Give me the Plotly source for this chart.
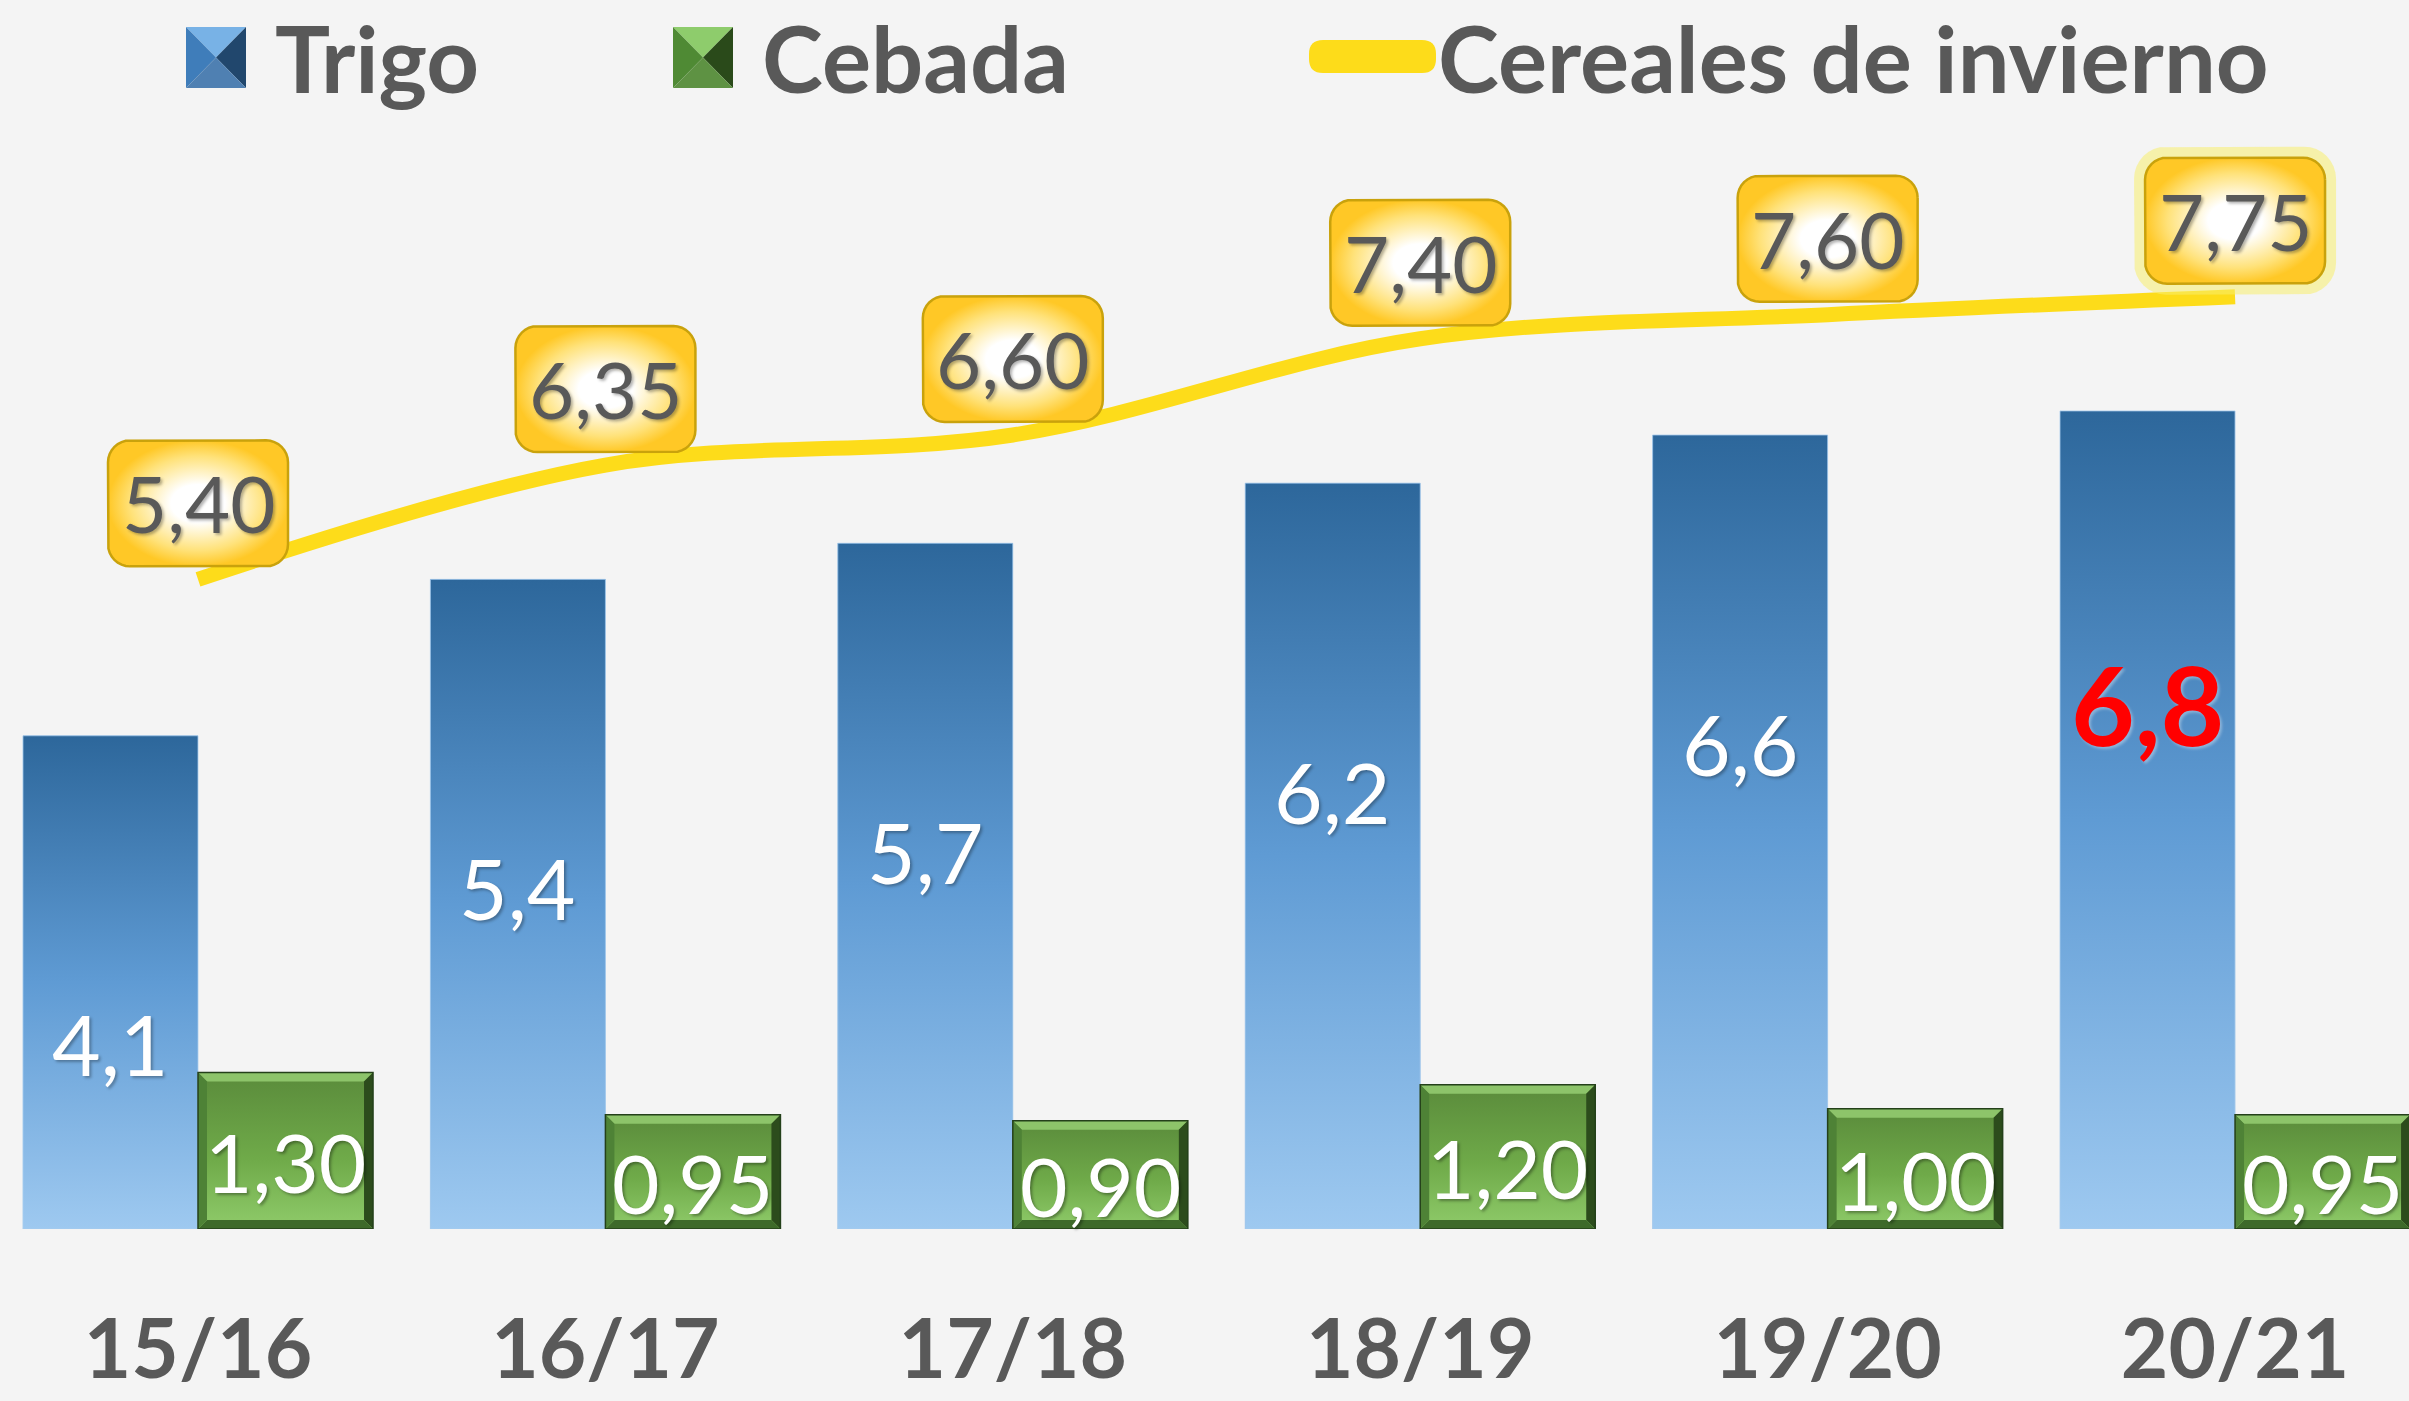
import plotly.graph_objects as go
import math

# ---------------- data ----------------
categories = ['15/16', '16/17', '17/18', '18/19', '19/20', '20/21']
trigo = [4.1, 5.4, 5.7, 6.2, 6.6, 6.8]
cebada = [1.30, 0.95, 0.90, 1.20, 1.00, 0.95]
cereales = [5.40, 6.35, 6.60, 7.40, 7.60, 7.75]
series_names = ['Trigo', 'Cebada', 'Cereales de invierno']

# ---------------- layout geometry ----------------
W, H = 2409, 1401
MB = 172                      # bottom margin (baseline of bars)
HP = H - MB                   # plot height in px
XR = [-0.486, 5.427]
YR = [0, 10.216]
dxpp = (XR[1] - XR[0]) / W
dypp = (YR[1] - YR[0]) / HP
BW = 0.4296                   # width of each bar (category units)

BG = '#F4F4F4'
GREY = '#595959'
FONT = 'Lato'

idx = list(range(len(categories)))


def fmt(v, d):
    return f"{v:.{d}f}".replace('.', ',')


def px2paper(xp, yp):
    return xp / W, (HP - yp) / HP


fig = go.Figure()

# base bars (through the library's own bar scale)
fig.add_trace(go.Bar(x=idx, y=trigo, width=BW, offset=-BW, name=series_names[0],
                     marker=dict(color='#5C97D0', line=dict(width=0)), showlegend=False))
fig.add_trace(go.Bar(x=idx, y=cebada, width=BW, offset=0, name=series_names[1],
                     marker=dict(color='#6DA848', line=dict(width=0)), showlegend=False))

# gradient overlays for the bars
for i, v in zip(idx, trigo):
    x0, x1 = i - BW, i
    fig.add_trace(go.Scatter(
        x=[x0, x1, x1, x0, x0], y=[0, 0, v, v, 0], mode='lines', line=dict(width=0.8, color='#A9CDEE'),
        fill='toself', hoverinfo='skip', showlegend=False,
        fillgradient=dict(type='vertical',
                          colorscale=[[0, '#9EC9F0'], [0.5, '#5F9BD4'], [1, '#2D679B']])))
for i, v in zip(idx, cebada):
    x0, x1 = i, i + BW
    fig.add_trace(go.Scatter(
        x=[x0, x1, x1, x0, x0], y=[0, 0, v, v, 0], mode='lines', line=dict(width=0),
        fill='toself', hoverinfo='skip', showlegend=False,
        fillgradient=dict(type='vertical',
                          colorscale=[[0, '#8FCB6A'], [0.45, '#6FAA49'], [1, '#5A8B3B']])))

# line of winter cereals
fig.add_trace(go.Scatter(x=idx, y=cereales, mode='lines', name=series_names[2],
                         line=dict(color='#FDDC1A', width=15, shape='spline', smoothing=1.0),
                         showlegend=False))


def rounded_box(cx, ybase, wpx, hpx, rpx, ygap):
    pts = []
    # in pixel space relative to (cx, ybase); y up
    l, r = -wpx / 2, wpx / 2
    b, t = ygap, ygap + hpx
    corners = [(r - rpx, t - rpx, 0, 90), (l + rpx, t - rpx, 90, 180),
               (l + rpx, b + rpx, 180, 270), (r - rpx, b + rpx, 270, 360)]
    for (ccx, ccy, a0, a1) in corners:
        for k in range(9):
            a = math.radians(a0 + (a1 - a0) * k / 8)
            pts.append((ccx + rpx * math.cos(a), ccy + rpx * math.sin(a)))
    pts.append(pts[0])
    xs = [cx + p[0] * dxpp for p in pts]
    ys = [ybase + p[1] * dypp for p in pts]
    return xs, ys


BOXW, BOXH, BOXR, BOXGAP = 180, 126, 22, 13
last = len(cereales) - 1
# glow behind the last (selected) label
gx, gy = rounded_box(idx[last], cereales[last], BOXW + 22, BOXH + 22, BOXR + 10, BOXGAP - 11)
fig.add_trace(go.Scatter(x=gx, y=gy, mode='lines', line=dict(width=0), fill='toself',
                         fillcolor='rgba(248,238,110,0.55)', hoverinfo='skip', showlegend=False))
for i, v in zip(idx, cereales):
    bx, by = rounded_box(i, v, BOXW, BOXH, BOXR, BOXGAP)
    fig.add_trace(go.Scatter(
        x=bx, y=by, mode='lines', line=dict(width=2.5, color='#C9A20C'), fill='toself',
        hoverinfo='skip', showlegend=False,
        fillgradient=dict(type='radial',
                          colorscale=[[0, '#FFFFFF'], [0.3, '#FFFFFF'], [0.75, '#FFE27A'], [1, '#FFC826']])))

shapes = []
# bevel on green bars
bxp, byp = 9 * dxpp, 9 * dypp
for i, v in zip(idx, cebada):
    x0, x1, y0, y1 = i, i + BW, 0, v
    polys = [
        ([(x0, y1), (x1, y1), (x1 - bxp, y1 - byp), (x0 + bxp, y1 - byp)], '#8DC46A'),
        ([(x1, y1), (x1, y0), (x1 - bxp, y0 + byp), (x1 - bxp, y1 - byp)], '#2C4C1C'),
        ([(x0, y0), (x1, y0), (x1 - bxp, y0 + byp), (x0 + bxp, y0 + byp)], '#3E6A2A'),
        ([(x0, y0), (x0, y1), (x0 + bxp, y1 - byp), (x0 + bxp, y0 + byp)], '#4E8236'),
    ]
    for pts, col in polys:
        path = 'M ' + ' L '.join(f'{px},{py}' for px, py in pts) + ' Z'
        shapes.append(dict(type='path', xref='x', yref='y', path=path, fillcolor=col,
                           line=dict(width=0), layer='above'))
    shapes.append(dict(type='rect', xref='x', yref='y', x0=x0, x1=x1, y0=y0, y1=y1,
                       line=dict(color='#24401A', width=1.5), fillcolor='rgba(0,0,0,0)', layer='above'))


# legend symbols (manual, to match the large pictogram look)
def paper_poly(pts_px, col):
    pp = [px2paper(a, b) for a, b in pts_px]
    path = 'M ' + ' L '.join(f'{a},{b}' for a, b in pp) + ' Z'
    return dict(type='path', xref='paper', yref='paper', path=path, fillcolor=col,
                line=dict(width=0), layer='above')


def pyramid(x0, y0, x1, y1, cols):
    cx, cy = (x0 + x1) / 2, (y0 + y1) / 2
    top, left, right, bottom = cols
    return [paper_poly([(x0, y0), (x1, y0), (cx, cy)], top),
            paper_poly([(x0, y0), (x0, y1), (cx, cy)], left),
            paper_poly([(x1, y0), (x1, y1), (cx, cy)], right),
            paper_poly([(x0, y1), (x1, y1), (cx, cy)], bottom)]


shapes += pyramid(186, 27, 246, 88, ['#78B2E6', '#3F7DBA', '#21476D', '#4F80B2'])
shapes += pyramid(673, 27, 733, 88, ['#8ECC6C', '#4F8A34', '#2A4A1A', '#5E9243'])
# line legend symbol (rounded bar)
lx0, lx1, ly0, ly1, rr = 1309, 1436, 40, 73, 14
p = [px2paper(lx0 + rr, ly0), px2paper(lx1 - rr, ly0), px2paper(lx1, ly0), px2paper(lx1, ly0 + rr),
     px2paper(lx1, ly1 - rr), px2paper(lx1, ly1), px2paper(lx1 - rr, ly1), px2paper(lx0 + rr, ly1),
     px2paper(lx0, ly1), px2paper(lx0, ly1 - rr), px2paper(lx0, ly0 + rr), px2paper(lx0, ly0)]
path = (f'M {p[0][0]},{p[0][1]} L {p[1][0]},{p[1][1]} Q {p[2][0]},{p[2][1]} {p[3][0]},{p[3][1]} '
        f'L {p[4][0]},{p[4][1]} Q {p[5][0]},{p[5][1]} {p[6][0]},{p[6][1]} L {p[7][0]},{p[7][1]} '
        f'Q {p[8][0]},{p[8][1]} {p[9][0]},{p[9][1]} L {p[10][0]},{p[10][1]} Q {p[11][0]},{p[11][1]} {p[0][0]},{p[0][1]} Z')
shapes.append(dict(type='path', xref='paper', yref='paper', path=path, fillcolor='#FDDC1A',
                   line=dict(width=0), layer='above'))

annotations = []
# legend texts
for name, xpx in zip(series_names, [273, 760, 1436]):
    ax, ay = px2paper(xpx, 0)
    annotations.append(dict(x=ax, y=ay, xref='paper', yref='paper', text=name, showarrow=False,
                            xanchor='left', yanchor='top',
                            font=dict(family=FONT, size=92, color=GREY, weight='bold')))

# trigo labels
for i, v in zip(idx, trigo):
    if i == last:
        f = dict(family=FONT, size=110, color='#FF0000', weight='bold',
                 shadow='2px 2px 3px rgba(255,255,255,0.35)')
        ys = -292
    else:
        f = dict(family=FONT, size=84, color='#FFFFFF', shadow='2px 2px 3px rgba(0,0,0,0.3)')
        ys = -308
    annotations.append(dict(x=i - BW / 2, y=v, xref='x', yref='y', text=fmt(v, 1), showarrow=False,
                            xanchor='center', yanchor='middle', yshift=ys, font=f))
# cebada labels
for i, v in zip(idx, cebada):
    annotations.append(dict(x=i + BW / 2, y=v / 2, xref='x', yref='y', text=fmt(v, 2), showarrow=False,
                            xanchor='center', yanchor='middle', yshift=-10,
                            font=dict(family=FONT, size=82, color='#FFFFFF',
                                      shadow='2px 2px 3px rgba(0,0,0,0.35)')))
# cereales labels
for i, v in zip(idx, cereales):
    annotations.append(dict(x=i, y=v, xref='x', yref='y', text=fmt(v, 2), showarrow=False,
                            xanchor='center', yanchor='middle', yshift=BOXGAP + BOXH / 2,
                            font=dict(family=FONT, size=78, color=GREY,
                                      shadow='2px 2px 3px rgba(0,0,0,0.3)')))

fig.update_layout(
    width=W, height=H,
    margin=dict(l=0, r=0, t=0, b=MB, pad=0),
    paper_bgcolor=BG, plot_bgcolor=BG,
    barmode='overlay',
    showlegend=False,
    xaxis=dict(range=XR, tickvals=idx, ticktext=categories, showgrid=False, zeroline=False,
               showline=False, ticks='', ticklabelstandoff=66, automargin=False,
               tickfont=dict(family=FONT, size=82, color=GREY, weight='bold')),
    yaxis=dict(range=YR, visible=False, showgrid=False, zeroline=False, automargin=False),
    shapes=shapes,
    annotations=annotations,
)

fig.write_html('out.html')
